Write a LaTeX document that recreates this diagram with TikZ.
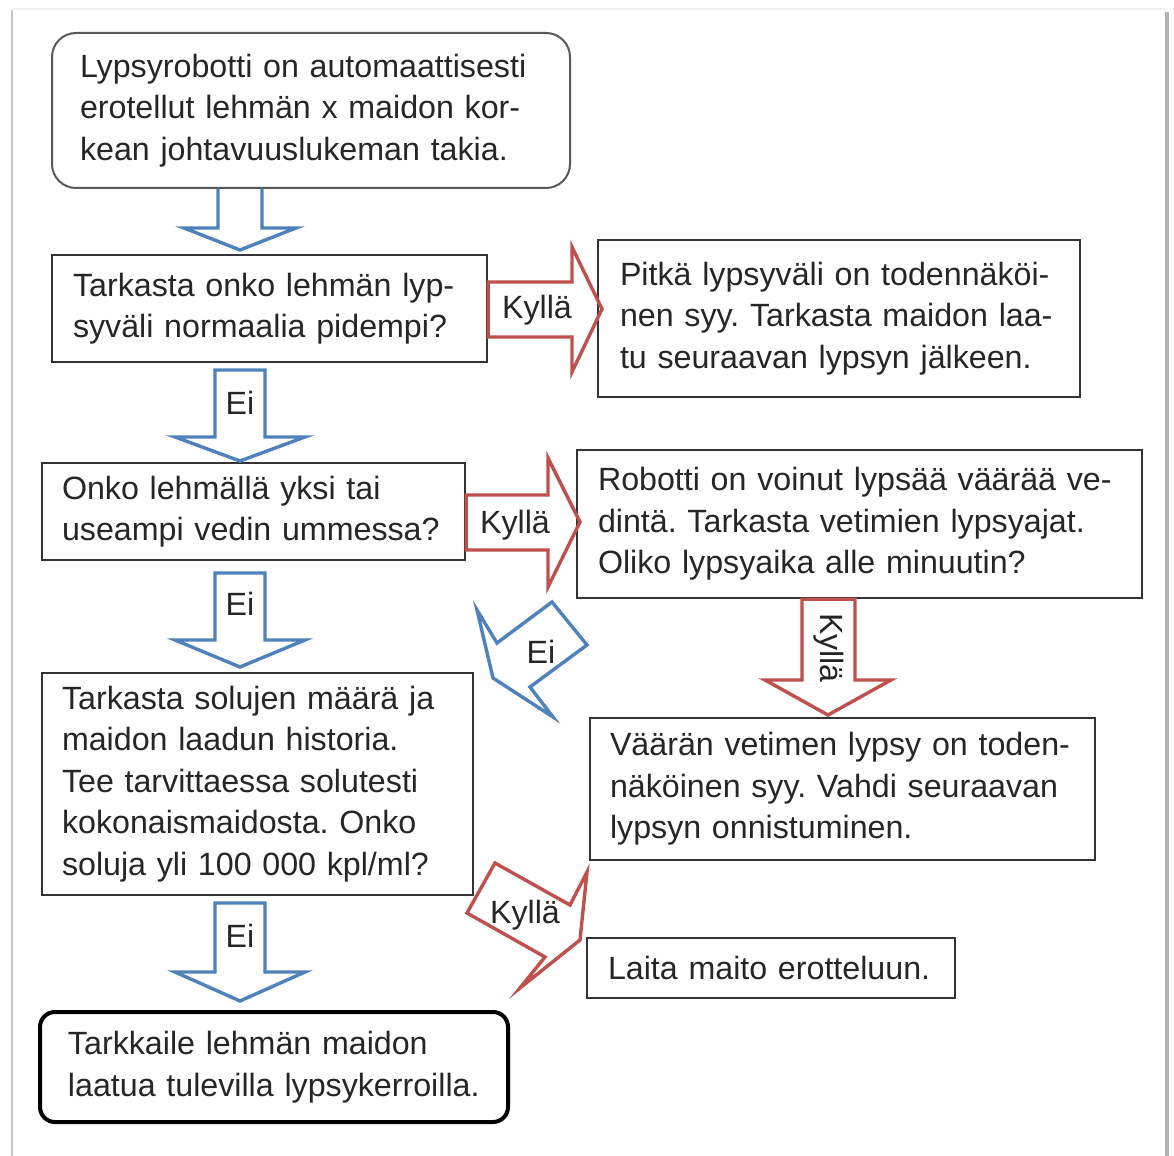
\documentclass[tikz,border=0pt]{standalone}
\usepackage{fontspec}
\setmainfont{Liberation Sans}
\frenchspacing
\definecolor{txtc}{HTML}{262626}
\definecolor{boxc}{HTML}{333333}
\definecolor{bluec}{HTML}{4F81BD}
\definecolor{redc}{HTML}{C0504D}
\begin{document}
\begin{tikzpicture}[x=0.5pt,y=-0.5pt,
  txt/.style={font=\fontsize{16.1}{20.7}\selectfont, text=txtc},
  box/.style={txt, draw=boxc, line width=1.2pt, fill=white, align=left, inner ysep=0pt},
  bluearr/.style={draw=bluec, line width=1.7pt, line join=miter},
  redarr/.style={draw=redc, line width=1.7pt, line join=miter},
  lab/.style={txt, inner sep=0pt}]
\useasboundingbox (0,0) rectangle (1174,1156);
\fill[white] (0,0) rectangle (1174,1156);
% page frame
\draw[gray!12, line width=1pt] (12,9) -- (1167,9);
\draw[gray!45, line width=1.2pt] (12,10) -- (12,1156);
\draw[gray!60, line width=1.6pt] (1167,12) -- (1167,1156);

% boxes
\node[box, draw=gray!70!black, line width=1pt, rounded corners=12pt, minimum height=77.5pt, text width=231pt, inner xsep=14pt] (b1) at (311,110.5)
  {\mbox{Lypsyrobotti on automaattisesti}\\\mbox{erotellut lehmän x maidon kor-}\\\mbox{kean johtavuuslukeman takia.}};
\node[box, minimum height=53.5pt, text width=196.5pt, inner xsep=10.5pt] (b2) at (269.5,308.5)
  {\mbox{Tarkasta onko lehmän lyp-}\\\mbox{syväli normaalia pidempi?}};
\node[box, minimum height=78.5pt, text width=219pt, inner xsep=11pt] (b3) at (839,318.5)
  {\mbox{Pitkä lypsyväli on todennäköi-}\\\mbox{nen syy. Tarkasta maidon laa-}\\\mbox{tu seuraavan lypsyn jälkeen.}};
\node[box, minimum height=48.5pt, text width=191.5pt, inner xsep=10pt] (b4) at (253.5,511.5)
  {\mbox{Onko lehmällä yksi tai}\\\mbox{useampi vedin ummessa?}};
\node[box, minimum height=74pt, text width=261.5pt, inner xsep=10.5pt] (b5) at (859.5,524)
  {\mbox{Robotti on voinut lypsää väärää ve-}\\\mbox{dintä. Tarkasta vetimien lypsyajat.}\\\mbox{Oliko lypsyaika alle minuutin?}};
\node[box, minimum height=71pt, text width=232.5pt, inner xsep=10pt] (b6) at (842.5,789)
  {\mbox{Väärän vetimen lypsy on toden-}\\\mbox{näköinen syy. Vahdi seuraavan}\\\mbox{lypsyn onnistuminen.}};
\node[box, minimum height=111pt, text width=195.5pt, inner xsep=10pt] (bs) at (257.5,784)
  {\mbox{Tarkasta solujen määrä ja}\\\mbox{maidon laadun historia.}\\\mbox{Tee tarvittaessa solutesti}\\\mbox{kokonaismaidosta. Onko}\\\mbox{soluja yli 100 000 kpl/ml?}};
\node[box, minimum height=30pt, text width=163pt, inner xsep=10.5pt] (b8) at (771,968)
  {\mbox{Laita maito erotteluun.}};
\node[box, draw=black, line width=2pt, rounded corners=7.5pt, minimum height=55pt, text width=206pt, inner xsep=14pt] (b7) at (274,1067)
  {\mbox{Tarkkaile lehmän maidon}\\\mbox{laatua tulevilla lypsykerroilla.}};

% blue down arrows
\draw[bluearr] (218,0 |- b1.south) -- (218,228) -- (184,228) -- (240,250) -- (296,228) -- (262,228) -- (262,0 |- b1.south);
\draw[bluearr] (215,370) -- (215,437) -- (175,437) -- (240,461) -- (305,437) -- (265,437) -- (265,370) -- cycle;
\draw[bluearr] (215,573) -- (215,640) -- (175,640) -- (240,667) -- (305,640) -- (265,640) -- (265,573) -- cycle;
\draw[bluearr] (215,903) -- (215,972) -- (175,972) -- (240,1001) -- (305,972) -- (265,972) -- (265,903) -- cycle;
\node[lab] (e1) at (240,403) {Ei};
\node[lab] (e2) at (240,604) {Ei};
\node[lab] (e3) at (240,936) {Ei};

% blue diagonal arrow
\draw[bluearr] (552,602) -- (497,643) -- (477,610) -- (493,678) -- (553,717) -- (530,687) -- (587,645) -- cycle;
\node[lab] (e4) at (541,652) {Ei};

% red arrows
\draw[redarr] (b2.east |- 0,282) -- (572,282) -- (572,247) -- (602,309) -- (572,372) -- (572,337) -- (b2.east |- 0,337) -- cycle;
\node[lab] (k1) at (537,310) {Kyllä};
\draw[redarr] (b4.east |- 0,495) -- (548,495) -- (548,458) -- (580,522) -- (548,587) -- (548,550) -- (b4.east |- 0,550) -- cycle;
\node[lab] (k2) at (515,525) {Kyllä};
\draw[redarr] (802,0 |- b5.south) -- (802,680) -- (765,680) -- (828,715) -- (891,680) -- (855,680) -- (855,0 |- b5.south) -- cycle;
\node[lab, rotate=-90] (k3) at (829,648) {Kyllä};
\draw[redarr] (495,863) -- (570,905) -- (587,872) -- (580,940) -- (520,988) -- (545,957) -- (467,913) -- cycle;
\node[lab] (k4) at (525,915) {Kyllä};
\end{tikzpicture}
\end{document}
